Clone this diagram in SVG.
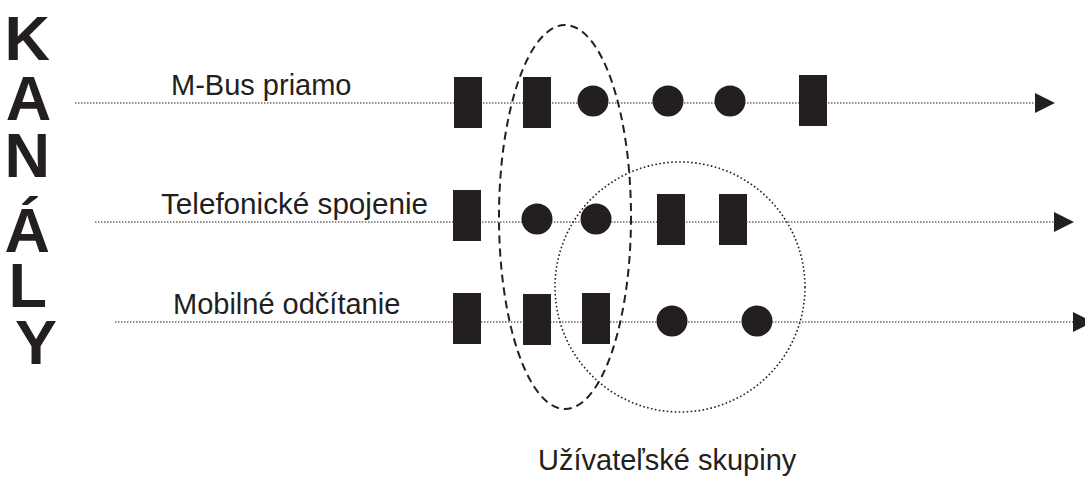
<svg xmlns="http://www.w3.org/2000/svg" width="1085" height="477" viewBox="0 0 1085 477">
  <style>
    .bg { fill: #ffffff; }
    .title { font-family: "Liberation Sans", Arial, sans-serif; font-weight: bold; font-size: 63px; fill: #231f20; text-anchor: middle; }
    .label { font-family: "Liberation Sans", Arial, sans-serif; font-size: 29px; fill: #231f20; }
    .channel { fill: none; stroke: #231f20; stroke-width: 1.2; stroke-dasharray: 1.5 1.5; }
    .block { fill: #231f20; }
    .dot { fill: #231f20; }
    .group-dashed { fill: none; stroke: #231f20; stroke-width: 2; stroke-dasharray: 8 5; }
    .group-dotted { fill: none; stroke: #231f20; stroke-width: 1.6; stroke-dasharray: 1.6 2.4; }
  </style>
  <defs>
    <marker id="arrow" viewBox="0 0 20 20" refX="0" refY="10" markerWidth="20" markerHeight="20" markerUnits="userSpaceOnUse" orient="auto">
      <path d="M0,0 L20,10 L0,20 Z" fill="#231f20"/>
    </marker>
  </defs>

  <rect class="bg" x="0" y="0" width="1085" height="477"/>

  <!-- vertical heading, one letter per line -->
  <g id="heading">
    <text class="title">
      <tspan x="36" y="60">K</tspan>
      <tspan x="36" y="120">A</tspan>
      <tspan x="36" y="177">N</tspan>
      <tspan x="36" y="252">Á</tspan>
      <tspan x="36" y="307">L</tspan>
      <tspan x="36" y="364">Y</tspan>
    </text>
  </g>

  <!-- channel lines with arrowheads -->
  <g id="connectors">
    <line class="channel" x1="75" y1="103" x2="1035" y2="103" marker-end="url(#arrow)"/>
    <line class="channel" x1="95" y1="222" x2="1054" y2="222" marker-end="url(#arrow)"/>
    <line class="channel" x1="115" y1="322" x2="1073" y2="322" marker-end="url(#arrow)"/>
  </g>

  <!-- channel labels -->
  <g id="label-mbus"><text class="label" x="171" y="95">M-Bus priamo</text></g>
  <g id="label-telefon"><text class="label" x="161" y="214" textLength="267" lengthAdjust="spacingAndGlyphs">Telefonické spojenie</text></g>
  <g id="label-mobil"><text class="label" x="173" y="314">Mobilné odčítanie</text></g>

  <!-- channel 1 items -->
  <g id="row-mbus">
    <rect class="block" x="454" y="77" width="28" height="51"/>
    <rect class="block" x="523" y="77" width="28" height="51"/>
    <circle class="dot" cx="593" cy="101" r="15.5"/>
    <circle class="dot" cx="668" cy="101" r="15.5"/>
    <circle class="dot" cx="730" cy="101" r="15.5"/>
    <rect class="block" x="799" y="75" width="28" height="51"/>
  </g>

  <!-- channel 2 items -->
  <g id="row-telefon">
    <rect class="block" x="453" y="190" width="28" height="51"/>
    <circle class="dot" cx="537" cy="219" r="15.5"/>
    <circle class="dot" cx="596" cy="219" r="15.5"/>
    <rect class="block" x="657" y="194" width="28" height="51"/>
    <rect class="block" x="719" y="194" width="28" height="51"/>
  </g>

  <!-- channel 3 items -->
  <g id="row-mobil">
    <rect class="block" x="453" y="293" width="28" height="51"/>
    <rect class="block" x="523" y="294" width="28" height="51"/>
    <rect class="block" x="582" y="293" width="28" height="51"/>
    <circle class="dot" cx="672" cy="321" r="15.5"/>
    <circle class="dot" cx="757" cy="321" r="15.5"/>
  </g>

  <!-- user groups -->
  <g id="group-a">
    <ellipse class="group-dashed" cx="565" cy="217" rx="66" ry="192"/>
  </g>
  <g id="group-b">
    <circle class="group-dotted" cx="680" cy="287" r="125"/>
  </g>

  <g id="label-groups"><text class="label" x="538" y="470">Užívateľské skupiny</text></g>
</svg>
